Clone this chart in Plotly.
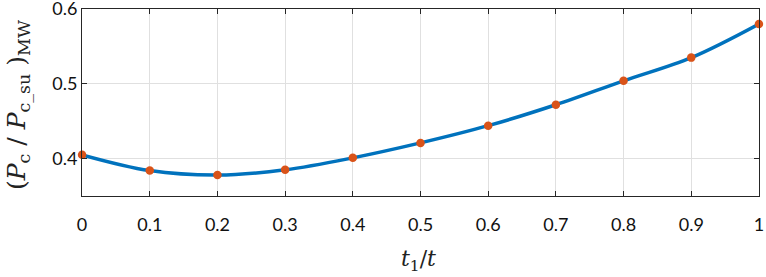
import plotly.graph_objects as go

t_ratio = [0.0, 0.1, 0.2, 0.3, 0.4, 0.5, 0.6, 0.7, 0.8, 0.9, 1.0]
p_ratio = [0.405, 0.384, 0.378, 0.385, 0.401, 0.421, 0.444, 0.472, 0.504, 0.535, 0.580]

x_ticks = [0, 0.1, 0.2, 0.3, 0.4, 0.5, 0.6, 0.7, 0.8, 0.9, 1]
x_tick_text = ["0", "0.1", "0.2", "0.3", "0.4", "0.5", "0.6", "0.7", "0.8", "0.9", "1"]
y_ticks = [0.4, 0.5, 0.6]
y_tick_text = ["0.4", "0.5", "0.6"]

x_title = "<i>t</i><sub>1</sub>/<i>t</i>"
y_title = "(<i>P</i><sub>c</sub> / <i>P</i><sub>c_su</sub> )<sub>MW</sub>"

fig = go.Figure()
fig.add_trace(go.Scatter(x=t_ratio, y=p_ratio, mode="lines",
                         line=dict(color="#0072BD", width=3.5, shape="spline", smoothing=1.0),
                         showlegend=False, hoverinfo="skip", cliponaxis=False))
fig.add_trace(go.Scatter(x=t_ratio, y=p_ratio, mode="markers",
                         marker=dict(color="#D95319", size=8.5),
                         showlegend=False, cliponaxis=False))

axis_common = dict(showline=True, linecolor="#262626", linewidth=1, mirror="ticks",
                   ticks="inside", ticklen=5, tickcolor="#262626", automargin=False,
                   ticklabeloverflow="allow",
                   showgrid=True, gridcolor="#e0e0e0", gridwidth=1, zeroline=False,
                   tickfont=dict(family="Lato, DejaVu Sans", size=18, color="#111111"))

fig.update_xaxes(range=[-0.0001, 1.0001], tickvals=x_ticks, ticktext=x_tick_text,
                 ticklabelstandoff=12, **axis_common)
fig.update_yaxes(range=[0.34999, 0.60001], tickvals=y_ticks, ticktext=y_tick_text,
                 **axis_common)

fig.add_annotation(text=x_title, xref="paper", yref="paper", x=(418 - 82) / 677, y=-(260 - 196) / 187,
                   showarrow=False, xanchor="center", yanchor="middle",
                   font=dict(family="DejaVu Serif", size=22, color="#222222"))
fig.add_annotation(text=y_title, xref="paper", yref="paper", x=-(82 - 18) / 677, y=(196 - 105) / 187,
                   showarrow=False, xanchor="center", yanchor="middle", textangle=-90,
                   font=dict(family="DejaVu Serif", size=25, color="#222222"))

fig.update_layout(width=766, height=277, margin=dict(l=82, r=7, t=9, b=81),
                  plot_bgcolor="white", paper_bgcolor="white")

fig.write_html("out.html", config={"displayModeBar": False},
               post_script="document.body.style.margin='0';")
